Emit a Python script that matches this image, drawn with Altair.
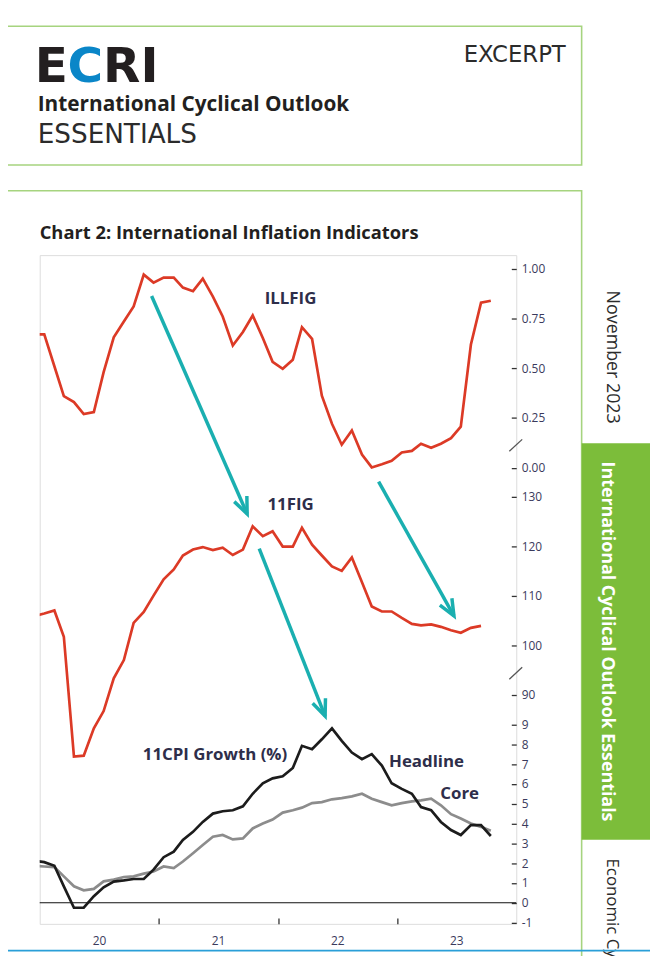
import altair as alt
import pandas as pd

# ---------------- data ----------------
# monthly observations, first value = Dec 2019 (partly hidden by the left edge)
illfig = [0.67, 0.67, 0.51, 0.36, 0.33, 0.27, 0.28, 0.48, 0.655, 0.735, 0.81, 0.97,
          0.93, 0.955, 0.955, 0.905, 0.887, 0.95, 0.86, 0.76, 0.614, 0.682, 0.765, 0.652,
          0.532, 0.497, 0.543, 0.706, 0.647, 0.362, 0.221, 0.116, 0.188, 0.067, 0.002, 0.018,
          0.035, 0.077, 0.085, 0.121, 0.101, 0.121, 0.149, 0.207, 0.619, 0.829, 0.839]

fig11 = [105.9, 106.4, 107.0, 101.7, 77.5, 77.7, 83.2, 86.7, 93.3, 97.0, 104.5, 106.7,
         110.0, 113.3, 115.3, 118.1, 119.3, 119.8, 119.2, 119.7, 118.2, 119.3, 124.0, 122.0,
         123.0, 119.9, 119.9, 123.7, 120.3, 118.1, 115.9, 115.0, 117.7, 112.7, 107.8, 106.8,
         106.8, 105.5, 104.3, 104.0, 104.2, 103.7, 103.0, 102.5, 103.5, 103.9]

cpi_headline = [2.12, 2.05, 1.87, 0.83, -0.25, -0.25, 0.33, 0.78, 1.07, 1.13, 1.20, 1.20,
                1.67, 2.30, 2.58, 3.17, 3.58, 4.08, 4.50, 4.62, 4.67, 4.87, 5.50, 6.03,
                6.28, 6.38, 6.80, 7.92, 7.75, 8.25, 8.80, 8.17, 7.58, 7.25, 7.50, 6.92,
                6.03, 5.75, 5.50, 4.83, 4.67, 4.08, 3.67, 3.42, 3.92, 3.92, 3.37]

cpi_core = [1.87, 1.83, 1.80, 1.33, 0.83, 0.63, 0.70, 1.08, 1.17, 1.30, 1.33, 1.47,
            1.58, 1.83, 1.75, 2.08, 2.50, 2.92, 3.33, 3.42, 3.20, 3.25, 3.75, 4.00,
            4.20, 4.55, 4.67, 4.80, 5.03, 5.08, 5.22, 5.28, 5.37, 5.50, 5.25, 5.08,
            4.92, 5.03, 5.12, 5.17, 5.25, 4.92, 4.47, 4.25, 4.00, 3.83, 3.63]

ticks_illfig = [0, 0.25, 0.5, 0.75, 1.0]
ticks_fig11 = [90, 100, 110, 120, 130]
ticks_cpi = [-1, 0, 1, 2, 3, 4, 5, 6, 7, 8, 9]

# annotation labels: text, date, value
lab_illfig = ("ILLFIG", "2022-02-08", 0.849)
lab_fig11 = ("11FIG", "2022-02-08", 128.3)
lab_cpi = [("11CPI Growth (%)", "2020-11-12", 7.43),
           ("Headline", "2022-12-07", 7.09),
           ("Core", "2023-05-13", 5.49)]

# arrows (drawn on the 11FIG scale): start date, start value, end date, end value, head angle
arrows = [("2020-12-09", 170.5, "2021-09-28", 126.5, 336.3),
          ("2021-11-04", 119.5, "2022-05-25", 85.7, 338.4),
          ("2022-11-05", 133.0, "2023-06-24", 105.9, 330.6)]


def months_from(year, month, n):
    out = []
    for _ in range(n):
        out.append(f"{year:04d}-{month:02d}-15")
        month += 1
        if month > 12:
            month = 1
            year += 1
    return out


df_ill = pd.DataFrame({"date": months_from(2019, 12, len(illfig)), "v": illfig})
df_f11 = pd.DataFrame({"date": months_from(2019, 12, len(fig11)), "v": fig11})
df_cpi = pd.DataFrame({"date": months_from(2019, 12, len(cpi_headline)),
                       "head": cpi_headline, "core": cpi_core})
df_arr = pd.DataFrame(arrows, columns=["xs", "ys", "xe", "ye", "ang"])

# ---------------- scales / axes ----------------
W, H = 481, 675
FONT = "Open Sans"
INK = "#231f20"
LAB = "#2e2e4a"
AXC = "#3a3a5c"

xscale = alt.Scale(domain=[alt.DateTime(year=2020, month=1, date=1),
                           alt.DateTime(year=2024, month=1, date=1)])
xaxis = alt.Axis(
    values=[alt.DateTime(year=2020, month=7, date=1), alt.DateTime(year=2021, month=1, date=1),
            alt.DateTime(year=2021, month=7, date=1), alt.DateTime(year=2022, month=1, date=1),
            alt.DateTime(year=2022, month=7, date=1), alt.DateTime(year=2023, month=1, date=1),
            alt.DateTime(year=2023, month=7, date=1)],
    labelExpr="month(datum.value) == 6 ? timeFormat(datum.value, '%y') : ''",
    tickOpacity={"condition": {"test": "month(datum.value) == 0", "value": 1}, "value": 0},
    tickSize=6, offset=-6, tickColor="#333333", tickWidth=1.3,
    domain=False, grid=False, title=None, labelPadding=12, labelOverlap=False,
    labelFont=FONT, labelFontSize=12, labelColor=AXC,
)

dom_ill = [-2.290, 1.068]
dom_f11 = [43.74, 178.74]
dom_cpi = [-1.065, 32.685]


def yscale(d):
    return alt.Scale(domain=d, nice=False, zero=False)


def raxis(values, fmt):
    return alt.Axis(orient="right", values=values, format=fmt, title=None, domain=False,
                    grid=False, offset=-5, tickSize=5, tickColor="#333333", tickWidth=1.3,
                    labelPadding=5, labelFont=FONT, labelFontSize=12, labelColor=AXC,
                    labelOverlap=False, labelBound=False,
                    labelExpr="replace(datum.label, '\u2212', '-')")


X = alt.X("date:T", scale=xscale, axis=xaxis)

red = "#dc3a26"
teal = "#1aafb0"

l_ill = alt.Chart(df_ill).mark_line(color=red, strokeWidth=2.7, clip=True).encode(
    x=X, y=alt.Y("v:Q", scale=yscale(dom_ill), axis=raxis(ticks_illfig, ".2f")))
l_f11 = alt.Chart(df_f11).mark_line(color=red, strokeWidth=2.7, clip=True).encode(
    x=X, y=alt.Y("v:Q", scale=yscale(dom_f11), axis=raxis(ticks_fig11, "d")))
l_core = alt.Chart(df_cpi).mark_line(color="#8c8c8c", strokeWidth=2.7, clip=True).encode(
    x=X, y=alt.Y("core:Q", scale=yscale(dom_cpi), axis=raxis(ticks_cpi, "d")))
l_head = alt.Chart(df_cpi).mark_line(color="#1c1c1c", strokeWidth=2.7, clip=True).encode(
    x=X, y=alt.Y("head:Q", scale=yscale(dom_cpi), axis=None))
zero = alt.Chart(pd.DataFrame({"v": [0]})).mark_rule(color="#111111", strokeWidth=1.2).encode(
    y=alt.Y("v:Q", scale=yscale(dom_cpi), axis=None))


def label_layer(items, dom, align):
    d = pd.DataFrame(items, columns=["t", "date", "v"])
    return alt.Chart(d).mark_text(font=FONT, fontSize=17, fontWeight="bold", color=LAB,
                                  align=align, baseline="middle").encode(
        x=X, y=alt.Y("v:Q", scale=yscale(dom), axis=None), text="t:N")


t_ill = label_layer([lab_illfig], dom_ill, "center")
t_f11 = label_layer([lab_fig11], dom_f11, "center")
t_cpi = label_layer(lab_cpi, dom_cpi, "left")

arr_line = alt.Chart(df_arr).mark_rule(color=teal, strokeWidth=3.5).encode(
    x=alt.X("xs:T", scale=xscale, axis=xaxis), x2="xe:T",
    y=alt.Y("ys:Q", scale=yscale(dom_f11), axis=None), y2="ye:Q")
arr_head = alt.Chart(df_arr).mark_point(
    shape="M -0.42 -1 L 0 0 L 0.42 -1", size=1100, filled=False, stroke=teal,
    strokeWidth=3.5, opacity=1, strokeJoin="miter").encode(
    x=alt.X("xe:T", scale=xscale, axis=xaxis),
    y=alt.Y("ye:Q", scale=yscale(dom_f11), axis=None),
    angle=alt.Angle("ang:Q", scale=None))

# ---------------- page decorations (pixel positions relative to plot origin) ----------------
one = pd.DataFrame({"k": [0]})
GREEN_LINE = "#a6d47f"
GREEN_TAB = "#7cbd3a"


def txt(text, x, y, size, color=INK, weight="normal", font=FONT, align="left",
        baseline="alphabetic", angle=0):
    return alt.Chart(one).mark_text(text=text, fontSize=size, color=color, fontWeight=weight,
                                    font=font, align=align, baseline=baseline,
                                    angle=angle).encode(x=alt.value(x), y=alt.value(y))


def box(x1, x2, y1, y2, **kw):
    return alt.Chart(one).mark_rect(**kw).encode(
        x=alt.value(x1), x2=alt.value(x2), y=alt.value(y1), y2=alt.value(y2))


def seg(x1, y1, x2, y2, color, width):
    return alt.Chart(one).mark_rule(color=color, strokeWidth=width).encode(
        x=alt.value(x1), x2=alt.value(x2), y=alt.value(y1), y2=alt.value(y2))


LOGO = "DejaVu Sans"
deco = [
    box(-60, 547, -231, -91, filled=False, stroke=GREEN_LINE, strokeWidth=1.6),
    box(-60, 547, -65, 760, filled=False, stroke=GREEN_LINE, strokeWidth=1.6),
    box(547, 640, 190, 590, fill=GREEN_TAB),
    txt("E", -5, -175, 49, INK, "bold", LOGO),
    txt("C", 28, -175, 49, "#0a86c8", "bold", LOGO),
    txt("RI", 64, -175, 49, INK, "bold", LOGO),
    txt("International Cyclical Outlook", -2, -145, 21, INK, "bold"),
    txt("ESSENTIALS", -2, -113, 26.5, "#2b2b2b", "normal", "DejaVu Sans"),
    txt("EXCERPT", 531, -195, 23, "#2b2b2b", "normal", "DejaVu Sans", align="right"),
    txt("Chart 2: International Inflation Indicators", 0, -16, 18.5, INK, "bold"),
    txt("November 2023", 578, 103, 18, "#2b2b2b", "normal", align="center",
        baseline="middle", angle=90),
    txt("International Cyclical Outlook Essentials", 573, 390, 18, "white", "bold",
        align="center", baseline="middle", angle=90),
    txt("Economic Cycle Research Institute", 578, 609, 17, "#2b2b2b", "normal",
        align="left", baseline="middle", angle=90),
    seg(474, 198, 487, 186, "#555555", 1.3),
    seg(474, 428, 487, 416, "#555555", 1.3),
    seg(-60, 702, 640, 702, "#2a9fd8", 1.6),
]

chart = alt.layer(
    *deco, zero, l_ill, l_f11, l_core, l_head, t_ill, t_f11, t_cpi, arr_line, arr_head
).resolve_scale(y="independent").properties(
    width=W, height=H,
    padding={"left": 32, "top": 245, "right": 135, "bottom": 28},
    autosize=alt.AutoSizeParams(type="none"),
    background="white",
).configure_view(stroke="#333333", strokeWidth=1.4).configure(font=FONT)

chart.save("out.html", embed_options={"renderer": "svg", "actions": False})
